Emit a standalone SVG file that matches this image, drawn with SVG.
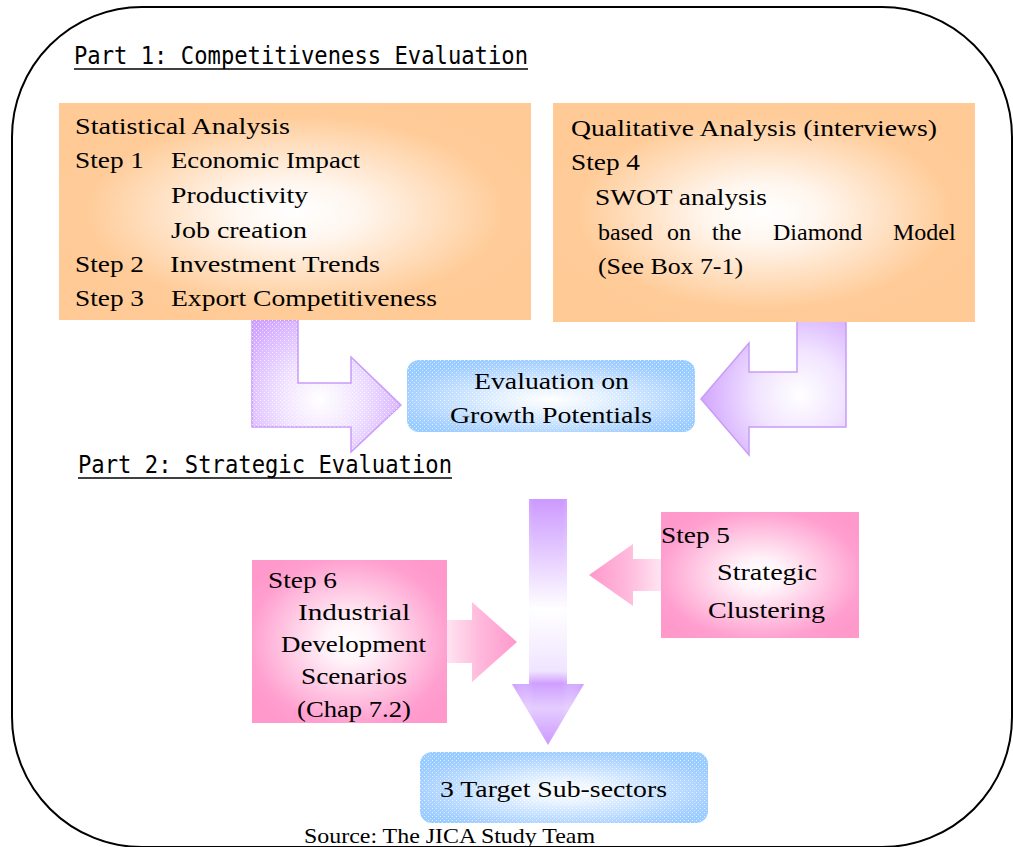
<svg xmlns="http://www.w3.org/2000/svg" width="1013" height="847" viewBox="0 0 1013 847">
<style>
.t{font-family:"Liberation Serif","Times New Roman",serif;font-size:24px;fill:#000}
.h{font-family:"DejaVu Sans Mono","Liberation Mono",monospace;font-size:25px;fill:#000}
.src{font-family:"Liberation Serif","Times New Roman",serif;font-size:21px;fill:#000}
.ul{stroke:#000;stroke-width:1.6}
.pa{stroke:#C89CF8;stroke-width:1.5}
</style>
<defs>
<radialGradient id="gOr" cx="0.5" cy="0.5" r="0.55">
<stop offset="0" stop-color="#FFFFFF"/><stop offset="0.25" stop-color="#FFF6EE"/><stop offset="0.8" stop-color="#FFCC99"/><stop offset="1" stop-color="#FFCA96"/>
</radialGradient>
<radialGradient id="gPk" cx="0.5" cy="0.5" r="0.6">
<stop offset="0" stop-color="#FFFFFF"/><stop offset="0.2" stop-color="#FFF4F9"/><stop offset="0.85" stop-color="#FF9FCF"/><stop offset="1" stop-color="#FF99CC"/>
</radialGradient>
<radialGradient id="gBl" cx="0.5" cy="0.55" r="0.6">
<stop offset="0" stop-color="#FFFFFF"/><stop offset="0.3" stop-color="#E4F1FF"/><stop offset="0.85" stop-color="#A6D0FF"/><stop offset="1" stop-color="#99CCFF"/>
</radialGradient>
<radialGradient id="gPuL" gradientUnits="userSpaceOnUse" cx="320" cy="400" r="100">
<stop offset="0" stop-color="#FFFFFF"/><stop offset="0.4" stop-color="#F0E2FF"/><stop offset="1" stop-color="#CFA2FF"/>
</radialGradient>
<radialGradient id="gPuR" gradientUnits="userSpaceOnUse" cx="800" cy="395" r="110">
<stop offset="0" stop-color="#FFFFFF"/><stop offset="0.4" stop-color="#F1E4FF"/><stop offset="1" stop-color="#CC99FF"/>
</radialGradient>
<linearGradient id="gDown" gradientUnits="userSpaceOnUse" x1="0" y1="499" x2="0" y2="745">
<stop offset="0" stop-color="#CC99FF"/><stop offset="0.15" stop-color="#DDBBFF"/><stop offset="0.45" stop-color="#FFFFFF"/><stop offset="0.7" stop-color="#F0E4FF"/><stop offset="0.75" stop-color="#CFA0FF"/><stop offset="0.85" stop-color="#E4CCFF"/><stop offset="1" stop-color="#CC99FF"/>
</linearGradient>
<linearGradient id="gDownSide" gradientUnits="userSpaceOnUse" x1="512" y1="0" x2="584" y2="0">
<stop offset="0" stop-color="#CC99FF" stop-opacity="0.5"/><stop offset="0.3" stop-color="#FFFFFF" stop-opacity="0"/><stop offset="0.7" stop-color="#FFFFFF" stop-opacity="0"/><stop offset="1" stop-color="#CC99FF" stop-opacity="0.5"/>
</linearGradient>
<linearGradient id="gPkL" gradientUnits="userSpaceOnUse" x1="589" y1="0" x2="665" y2="0">
<stop offset="0" stop-color="#FF99CC"/><stop offset="0.5" stop-color="#FFB8DB"/><stop offset="1" stop-color="#FFEAF4"/>
</linearGradient>
<linearGradient id="gPkR" gradientUnits="userSpaceOnUse" x1="445" y1="0" x2="517" y2="0">
<stop offset="0" stop-color="#FFE6F2"/><stop offset="0.5" stop-color="#FFB8DB"/><stop offset="1" stop-color="#FF99CC"/>
</linearGradient>
<pattern id="dots" width="4" height="4" patternUnits="userSpaceOnUse">
<rect x="0" y="0" width="1" height="1" fill="#FFFFFF" fill-opacity="0.7"/>
<rect x="2" y="2" width="1" height="1" fill="#FFFFFF" fill-opacity="0.5"/>
</pattern>
</defs>

<rect id="frame" x="12" y="7" width="1000" height="840" rx="130" ry="130" fill="none" stroke="#000" stroke-width="2"/>

<g id="part1-title">
<text class="h" x="74" y="64" textLength="454" lengthAdjust="spacingAndGlyphs">Part 1: Competitiveness Evaluation</text>
<line class="ul" x1="74" y1="69" x2="528" y2="69"/>
</g>

<g id="connectors">
<path class="pa" d="M252,320 L298,320 L298,383 L351,383 L351,357 L401,405 L351,452 L351,427 L252,427 Z" fill="url(#gPuL)"/>
<path d="M252,320 L298,320 L298,383 L351,383 L351,357 L401,405 L351,452 L351,427 L252,427 Z" fill="url(#dots)"/>
<path class="pa" d="M797,320 L846,320 L846,427 L749,427 L749,455 L701,399 L749,343 L749,372 L797,372 Z" fill="url(#gPuR)"/>
<path d="M529,499 L567,499 L567,684 L584,684 L548,745 L512,684 L529,684 Z" fill="url(#gDown)"/>
<path d="M529,499 L567,499 L567,684 L584,684 L548,745 L512,684 L529,684 Z" fill="url(#gDownSide)"/>
<path d="M662,559 L633,559 L633,544 L589,575 L633,606 L633,591 L662,591 Z" fill="url(#gPkL)"/>
<path d="M446,620 L472,620 L472,602 L517,642 L472,682 L472,663 L446,663 Z" fill="url(#gPkR)"/>
</g>

<g id="stat-box">
<rect x="59" y="103" width="472" height="217" fill="url(#gOr)"/>
<text class="t" x="75" y="134" textLength="215" lengthAdjust="spacingAndGlyphs">Statistical Analysis</text>
<text class="t" x="75" y="168" textLength="69" lengthAdjust="spacingAndGlyphs">Step 1</text>
<text class="t" x="171" y="168" textLength="189" lengthAdjust="spacingAndGlyphs">Economic Impact</text>
<text class="t" x="171" y="203" textLength="137" lengthAdjust="spacingAndGlyphs">Productivity</text>
<text class="t" x="171" y="238" textLength="136" lengthAdjust="spacingAndGlyphs">Job creation</text>
<text class="t" x="75" y="272" textLength="69" lengthAdjust="spacingAndGlyphs">Step 2</text>
<text class="t" x="170" y="272" textLength="210" lengthAdjust="spacingAndGlyphs">Investment Trends</text>
<text class="t" x="75" y="306" textLength="69" lengthAdjust="spacingAndGlyphs">Step 3</text>
<text class="t" x="171" y="306" textLength="266" lengthAdjust="spacingAndGlyphs">Export Competitiveness</text>
</g>

<g id="qual-box">
<rect x="553" y="103" width="422" height="219" fill="url(#gOr)"/>
<text class="t" x="571" y="136" textLength="366" lengthAdjust="spacingAndGlyphs">Qualitative Analysis (interviews)</text>
<text class="t" x="571" y="170" textLength="69" lengthAdjust="spacingAndGlyphs">Step 4</text>
<text class="t" x="595" y="205" textLength="172" lengthAdjust="spacingAndGlyphs">SWOT analysis</text>
<text class="t" y="240"><tspan x="598">based</tspan><tspan x="667">on</tspan><tspan x="712">the</tspan><tspan x="773">Diamond</tspan><tspan x="893">Model</tspan></text>
<text class="t" x="598" y="274" textLength="145" lengthAdjust="spacingAndGlyphs">(See Box 7-1)</text>
</g>

<g id="eval-box">
<rect x="407" y="360" width="288" height="72" rx="12" ry="12" fill="url(#gBl)"/>
<rect x="407" y="360" width="288" height="72" rx="12" ry="12" fill="url(#dots)"/>
<text class="t" x="474" y="389" textLength="155" lengthAdjust="spacingAndGlyphs">Evaluation on</text>
<text class="t" x="450" y="423" textLength="202" lengthAdjust="spacingAndGlyphs">Growth Potentials</text>
</g>

<g id="part2-title">
<text class="h" x="78" y="473" textLength="374" lengthAdjust="spacingAndGlyphs">Part 2: Strategic Evaluation</text>
<line class="ul" x1="78" y1="478" x2="452" y2="478"/>
</g>

<g id="step5">
<rect x="661" y="512" width="198" height="126" fill="url(#gPk)"/>
<text class="t" x="661" y="543" textLength="69" lengthAdjust="spacingAndGlyphs">Step 5</text>
<text class="t" x="717" y="580" textLength="100" lengthAdjust="spacingAndGlyphs">Strategic</text>
<text class="t" x="708" y="618" textLength="117" lengthAdjust="spacingAndGlyphs">Clustering</text>
</g>

<g id="step6">
<rect x="252" y="560" width="195" height="163" fill="url(#gPk)"/>
<text class="t" x="268" y="588" textLength="69" lengthAdjust="spacingAndGlyphs">Step 6</text>
<text class="t" x="298" y="620" textLength="112" lengthAdjust="spacingAndGlyphs">Industrial</text>
<text class="t" x="281" y="652" textLength="145" lengthAdjust="spacingAndGlyphs">Development</text>
<text class="t" x="301" y="684" textLength="106" lengthAdjust="spacingAndGlyphs">Scenarios</text>
<text class="t" x="297" y="717" textLength="114" lengthAdjust="spacingAndGlyphs">(Chap 7.2)</text>
</g>

<g id="target-box">
<rect x="420" y="752" width="288" height="71" rx="12" ry="12" fill="url(#gBl)"/>
<rect x="420" y="752" width="288" height="71" rx="12" ry="12" fill="url(#dots)"/>
<text class="t" x="440" y="797" textLength="227" lengthAdjust="spacingAndGlyphs">3 Target Sub-sectors</text>
</g>

<g id="source">
<text class="src" x="304" y="843" textLength="291" lengthAdjust="spacingAndGlyphs">Source: The JICA Study Team</text>
</g>
</svg>
